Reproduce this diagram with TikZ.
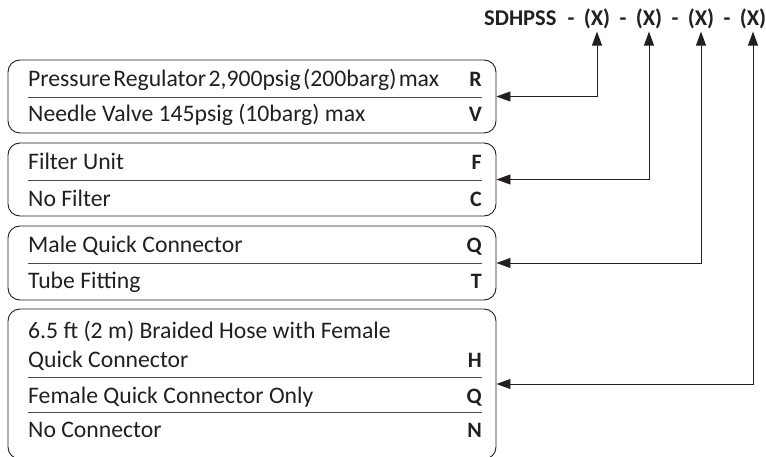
\documentclass[tikz,border=0pt]{standalone}
\usepackage{fontspec}
\setmainfont{Carlito}
\usetikzlibrary{arrows.meta}

\definecolor{ink}{HTML}{231F20}
\definecolor{rule}{HTML}{4D4D4D}

\tikzset{
  optbox/.style={draw=ink,line width=0.9pt,rounded corners=12pt,
    minimum width=488pt,inner sep=0pt},
  opttext/.style={anchor=base west,inner sep=0pt,text=ink,font=\fontsize{23.7}{26}\selectfont},
  optcode/.style={anchor=base east,inner sep=0pt,text=ink,font=\fontsize{22}{26}\selectfont\bfseries},
  divider/.style={draw=rule,line width=0.8pt},
  hdr/.style={anchor=base,inner sep=0pt,text=ink,font=\fontsize{22.5}{26}\selectfont\bfseries},
  slot/.style={hdr,inner sep=2pt},
  conn/.style={draw=ink,line width=0.9pt,{Triangle[length=14pt,width=10pt]}-{Triangle[length=14pt,width=10pt]}}
}

\begin{document}
\begin{tikzpicture}[x=1pt,y=-1pt]
    \useasboundingbox (0,0) rectangle (766,457);

    % header
    \node[hdr,anchor=base west] (code) at (484,26) {SDHPSS};
    \node[hdr] (d1) at (571,26) {-};
    \node[slot] (x1) at (597,26) {(X)};
    \node[hdr] (d2) at (623,26) {-};
    \node[slot] (x2) at (649,26) {(X)};
    \node[hdr] (d3) at (675,26) {-};
    \node[slot] (x3) at (701,26) {(X)};
    \node[hdr] (d4) at (727,26) {-};
    \node[slot] (x4) at (753,26) {(X)};

    % regulator
    \node[optbox,minimum height=73pt] (box1) at (252,96.5) {};
    \node[opttext] (r1) at (28,87) {\spaceskip=0.1em\relax Pressure Regulator 2,900psig (200barg) max};
    \node[optcode] (c1) at (482,87) {R};
    \draw[divider] (28,97) -- (482,97);
    \node[opttext] (r2) at (28,122) {Needle Valve 145psig (10barg) max};
    \node[optcode] (c2) at (482,122) {V};

    % filter
    \node[optbox,minimum height=73pt] (box2) at (252,179.5) {};
    \node[opttext] (r3) at (28,170) {Filter Unit};
    \node[optcode] (c3) at (482,170) {F};
    \draw[divider] (28,180) -- (482,180);
    \node[opttext] (r4) at (28,207) {No Filter};
    \node[optcode] (c4) at (482,207) {C};

    % inlet
    \node[optbox,minimum height=74pt] (box3) at (252,263) {};
    \node[opttext] (r5) at (28,253) {Male Quick Connector};
    \node[optcode] (c5) at (482,253) {Q};
    \draw[divider] (28,263) -- (482,263);
    \node[opttext] (r6) at (28,288) {Tube Fitting};
    \node[optcode] (c6) at (482,288) {T};

    % outlet
    \node[optbox,minimum height=150pt] (box4) at (252,384) {};
    \node[opttext] (r7) at (28,338) {6.5 ft (2 m) Braided Hose with Female};
    \node[opttext] (r8) at (28,367) {Quick Connector};
    \node[optcode] (c7) at (482,367) {H};
    \draw[divider] (28,377) -- (482,377);
    \node[opttext] (r9) at (28,403) {Female Quick Connector Only};
    \node[optcode] (c8) at (482,403) {Q};
    \draw[divider] (28,412) -- (482,412);
    \node[opttext] (r10) at (28,437) {No Connector};
    \node[optcode] (c9) at (482,437) {N};

    % connectors
    \draw[conn] (box1.east) -| (x1.south);
    \draw[conn] (box2.east) -| (x2.south);
    \draw[conn] (box3.east) -| (x3.south);
    \draw[conn] (box4.east) -| (x4.south);
\end{tikzpicture}
\end{document}
